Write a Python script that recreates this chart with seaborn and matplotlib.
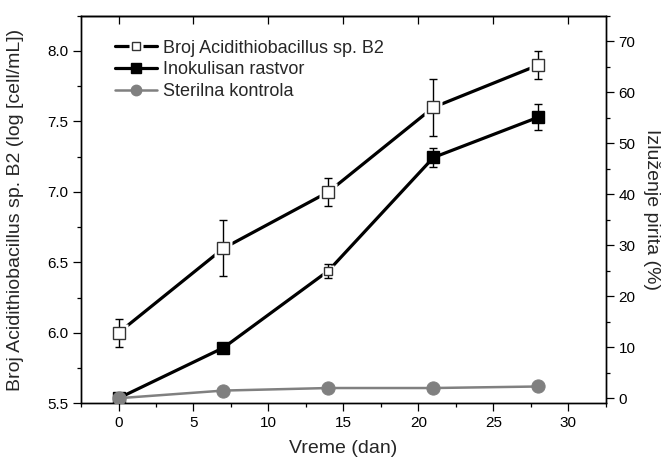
import seaborn as sns
import pandas as pd
import matplotlib
matplotlib.use("Agg")
import matplotlib.pyplot as plt
from matplotlib.lines import Line2D
from matplotlib.legend_handler import HandlerTuple
from matplotlib.ticker import MultipleLocator

# data
days = [0, 7, 14, 21, 28]
broj = [6.0, 6.6, 7.0, 7.6, 7.9]
broj_err = [0.1, 0.2, 0.1, 0.2, 0.1]
inokulisan = [0.0, 9.9, 25.0, 47.2, 55.1]
inokulisan_err = [0.0, 0.0, 1.4, 1.9, 2.6]
sterilna = [0.0, 1.5, 2.0, 2.0, 2.3]

labels = ["Broj Acidithiobacillus sp. B2", "Inokulisan rastvor", "Sterilna kontrola"]

sns.set_theme(style="ticks")
plt.rcParams['font.family'] = ['Liberation Sans', 'DejaVu Sans']
plt.rcParams['axes.linewidth'] = 1.0

df = pd.DataFrame({"dan": days, "broj": broj, "ino": inokulisan, "ster": sterilna})

fig = plt.figure(figsize=(6.68, 4.66), dpi=100)
ax = fig.add_axes([0.1213, 0.1345, 0.7857, 0.8318])
ax2 = ax.twinx()

grey = "#808080"

# left axis: cell count
sns.lineplot(data=df, x="dan", y="broj", ax=ax, color="black", linewidth=2.3, zorder=2)
ax.plot(days, broj, ls="none", marker="s", ms=12.5, mfc="white", mec="none", zorder=3)
ax.errorbar(days, broj, yerr=broj_err, fmt="none", ecolor="black", elinewidth=1,
            capsize=2.8, capthick=1, zorder=4)
ax.plot(days, broj, ls="none", marker="s", ms=8, mfc="white", mec="#333333", mew=1, zorder=5)

# right axis: leaching
sns.lineplot(data=df, x="dan", y="ino", ax=ax2, color="black", linewidth=2.3, zorder=2)
ax2.errorbar(days, inokulisan, yerr=inokulisan_err, fmt="none", ecolor="black",
             elinewidth=1, capsize=2.8, capthick=1, zorder=4)
hollow = 2
filled_x = [d for i, d in enumerate(days) if i != hollow]
filled_y = [v for i, v in enumerate(inokulisan) if i != hollow]
ax2.plot(filled_x, filled_y, ls="none", marker="s", ms=8, mfc="black", mec="black", zorder=5)
ax2.plot([days[hollow]], [inokulisan[hollow]], ls="none", marker="s", ms=9, mfc="white",
         mec="none", zorder=3)
ax2.plot([days[hollow]], [inokulisan[hollow]], ls="none", marker="s", ms=5.5, mfc="white",
         mec="#333333", mew=1, zorder=5)

sns.lineplot(data=df, x="dan", y="ster", ax=ax2, color=grey, linewidth=1.8, zorder=6,
             marker="o", markersize=9.5, markerfacecolor=grey, markeredgecolor=grey)

ax.set_xlim(-2.5, 32.5)
ax.set_ylim(5.5, 8.25)
ax2.set_ylim(-1, 75)

ax.xaxis.set_major_locator(MultipleLocator(5))
ax.xaxis.set_minor_locator(MultipleLocator(2.5))
ax.yaxis.set_major_locator(MultipleLocator(0.5))
ax.yaxis.set_minor_locator(MultipleLocator(0.25))
ax2.yaxis.set_major_locator(MultipleLocator(10))
ax2.yaxis.set_minor_locator(MultipleLocator(5))
ax.yaxis.set_major_formatter(matplotlib.ticker.FormatStrFormatter("%.1f"))

for a in (ax, ax2):
    for s in a.spines.values():
        s.set_visible(True)
        s.set_color("black")
        s.set_linewidth(1.0)
    a.tick_params(which="major", direction="out", length=5.5, width=0.9, labelsize=11,
                  colors="black", pad=3.5)
    a.tick_params(which="minor", direction="out", length=3, width=0.9, colors="black")

ax.tick_params(axis="x", which="both", top=False)
# top axis ticks pointing inward (majors only)
sec = ax.secondary_xaxis("top")
sec.xaxis.set_major_locator(MultipleLocator(5))
sec.tick_params(direction="in", length=5.5, width=0.9, labeltop=False, colors="black")
sec.spines["top"].set_linewidth(1.0)

ax.set_xlabel("Vreme (dan)", fontsize=14, labelpad=7)
ax.set_ylabel("Broj Acidithiobacillus sp. B2 (log [cell/mL])", fontsize=14, labelpad=17)
ax2.set_ylabel("Izluženje pirita (%)", fontsize=14, rotation=270, labelpad=18)

h_broj = (Line2D([], [], color="black", lw=2.3),
          Line2D([], [], ls="none", marker="s", ms=9.5, mfc="white", mec="none"),
          Line2D([], [], ls="none", marker="s", ms=6, mfc="white", mec="#333333", mew=1))
h_ino = Line2D([], [], color="black", lw=2.3, marker="s", ms=6.5, mfc="black", mec="black")
h_ster = Line2D([], [], color=grey, lw=1.8, marker="o", ms=7.5, mfc=grey, mec=grey)

ax2.legend([h_broj, h_ino, h_ster], labels, loc="upper left",
           bbox_to_anchor=(0.064, 0.938), borderaxespad=0, borderpad=0,
           frameon=False, fontsize=13, handlelength=2.35, handletextpad=0.35,
           labelspacing=0.26, numpoints=1,
           handler_map={tuple: HandlerTuple(ndivide=1)})

fig.savefig("out.png", dpi=100)
